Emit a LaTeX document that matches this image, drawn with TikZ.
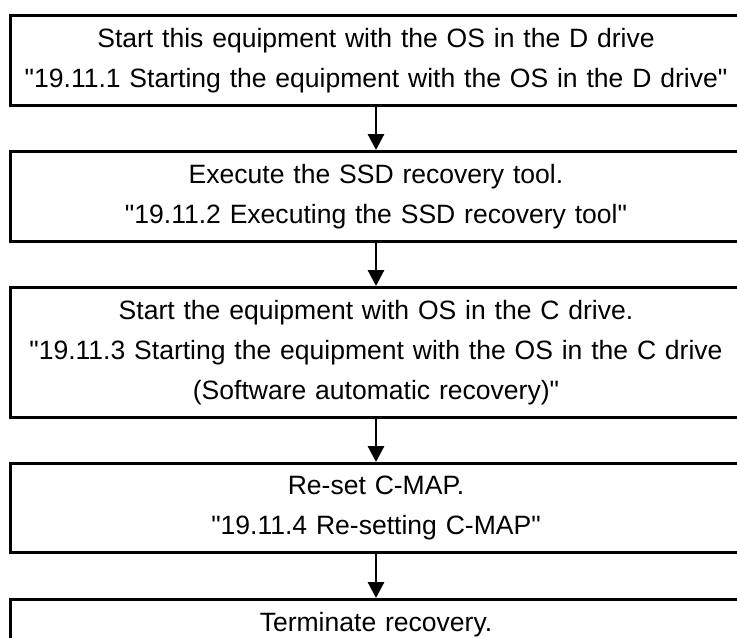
\documentclass[tikz,border=0pt]{standalone}
\usepackage{fontspec}
\setmainfont{Liberation Sans}[Ligatures=TeXOff]
\usetikzlibrary{arrows.meta}

\begin{document}
\begin{tikzpicture}[
    x=0.02cm, y=-0.02cm,
    proc/.style={draw, line width=1.7pt, anchor=north, minimum width=14.64cm, text width=14.2cm, inner xsep=2pt, inner ysep=7.1pt, align=center, font=\fontsize{15.1}{22.8}\selectfont},
    arr/.style={-{Triangle[length=9pt, width=9pt]}, line width=1.7pt}
]
\useasboundingbox (0,0) rectangle (737,637);
\clip (0,0) rectangle (737,637);
\node[proc] (D) at (376,14) {Start this equipment with the OS in the D drive\\"19.11.1 Starting the equipment with the OS in the D drive"};
\node[proc] (X) at (376,150) {Execute the SSD recovery tool.\\"19.11.2 Executing the SSD recovery tool"};
\node[proc] (C) at (376,286) {Start the equipment with OS in the C drive.\\"19.11.3 Starting the equipment with the OS in the C drive\\(Software automatic recovery)"};
\node[proc] (M) at (376,462) {Re-set C-MAP.\\"19.11.4 Re-setting C-MAP"};
\node[proc] (T) at (376,598) {Terminate recovery.};

\draw[arr] (D) -- (X);
\draw[arr] (X) -- (C);
\draw[arr] (C) -- (M);
\draw[arr] (M) -- (T);
\end{tikzpicture}
\end{document}
